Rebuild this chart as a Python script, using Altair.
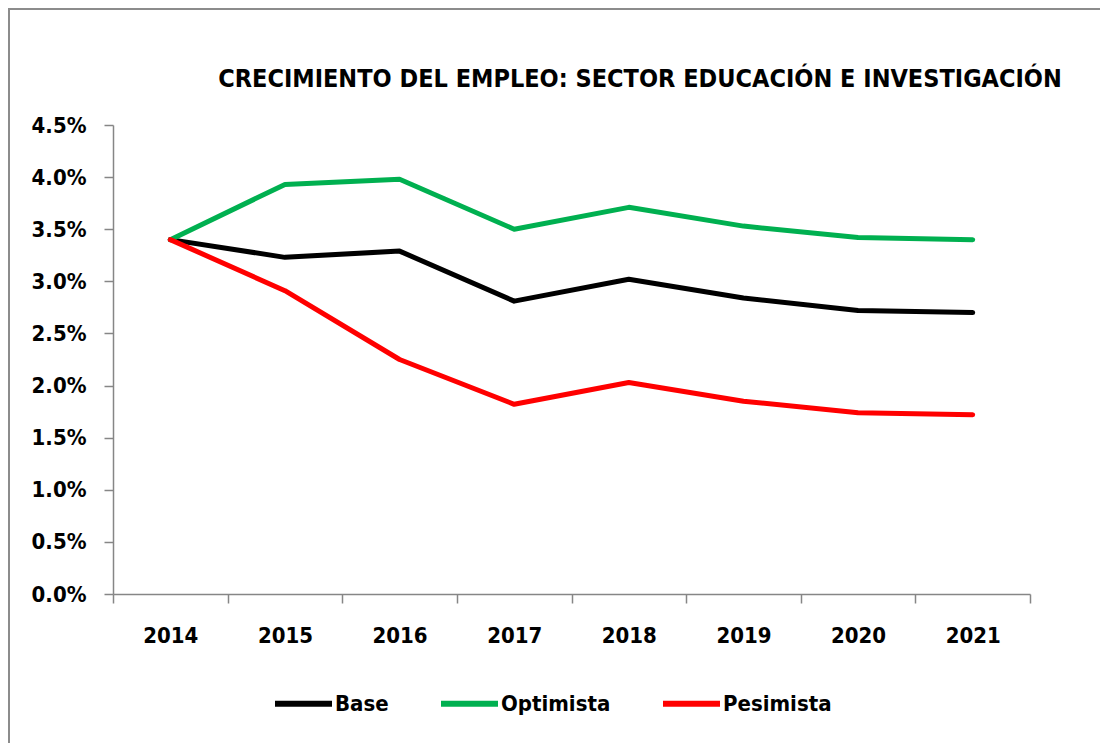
import altair as alt
import pandas as pd

years = ["2014", "2015", "2016", "2017", "2018", "2019", "2020", "2021"]
series_names = ["Base", "Optimista", "Pesimista"]
base = [0.0340, 0.0323, 0.0329, 0.0281, 0.0302, 0.0284, 0.0272, 0.0270]
optimista = [0.0340, 0.0393, 0.0398, 0.0350, 0.0371, 0.0353, 0.0342, 0.0340]
pesimista = [0.0340, 0.0291, 0.0225, 0.0182, 0.0203, 0.0185, 0.0174, 0.0172]
colors = ["#000000", "#00B050", "#FF0000"]
y_ticks = [i * 0.005 for i in range(10)]
title_text = "CRECIMIENTO DEL EMPLEO: SECTOR EDUCACIÓN E INVESTIGACIÓN"

rows = []
for name, vals in zip(series_names, [base, optimista, pesimista]):
    for yr, v in zip(years, vals):
        rows.append({"Año": yr, "Serie": name, "Valor": v})
df = pd.DataFrame(rows)

FONT = "DejaVu Sans Condensed"
GRAY = "#868686"

lines = alt.Chart(df).mark_line(strokeWidth=5, strokeJoin="round", strokeCap="round").encode(
    x=alt.X("Año:O", sort=years,
            scale=alt.Scale(type="band", paddingInner=0, paddingOuter=0),
            axis=alt.Axis(title=None, tickBand="extent", labelAngle=0,
                          labelFont=FONT, labelFontSize=22, labelFontWeight="bold",
                          labelColor="#000000", labelPadding=22,
                          tickSize=9, tickColor=GRAY, tickWidth=1.5,
                          domainColor=GRAY, domainWidth=1.5, grid=False)),
    y=alt.Y("Valor:Q",
            scale=alt.Scale(domain=[0, 0.045], nice=False, zero=True),
            axis=alt.Axis(title=None, values=y_ticks, format=".1%",
                          labelFont=FONT, labelFontSize=22, labelFontWeight="bold",
                          labelColor="#000000", labelPadding=18,
                          tickSize=9, tickColor=GRAY, tickWidth=1.5,
                          domainColor=GRAY, domainWidth=1.5, grid=False)),
    color=alt.Color("Serie:N",
                    scale=alt.Scale(domain=series_names, range=colors),
                    legend=alt.Legend(title=None, orient="none", direction="horizontal",
                                      legendX=159, legendY=547,
                                      symbolType="stroke", symbolSize=3249,
                                      symbolStrokeWidth=6, labelOffset=0,
                                      columnPadding=40,
                                      labelFont=FONT, labelFontSize=22,
                                      labelFontWeight="bold", labelColor="#000000")),
    order=alt.Order("serie_order:Q"),
).transform_calculate(
    serie_order="indexof(['Base','Optimista','Pesimista'], datum.Serie)"
)

title_df = pd.DataFrame({"t": [title_text]})
title = alt.Chart(title_df).mark_text(
    font=FONT, fontSize=25, fontWeight="bold", color="#000000",
    align="center", baseline="alphabetic",
).encode(text="t:N", x=alt.value(527), y=alt.value(-38))

frame_df = pd.DataFrame({"k": [0]})
left_border = alt.Chart(frame_df).mark_rule(color="#8c8c8c", strokeWidth=2).encode(
    x=alt.value(-104), y=alt.value(-117), y2=alt.value(630)
)
top_border = alt.Chart(frame_df).mark_rule(color="#8c8c8c", strokeWidth=2).encode(
    x=alt.value(-105), x2=alt.value(990), y=alt.value(-116)
)

chart = alt.layer(lines, title, left_border, top_border).properties(
    width=917,
    height=469,
    autosize=alt.AutoSizeParams(type="none"),
    padding={"left": 105, "top": 117, "right": 70, "bottom": 149},
    background="#ffffff",
).configure_view(stroke=None, strokeWidth=0)

chart.save("out.html", embed_options={"renderer": "svg", "actions": False})
